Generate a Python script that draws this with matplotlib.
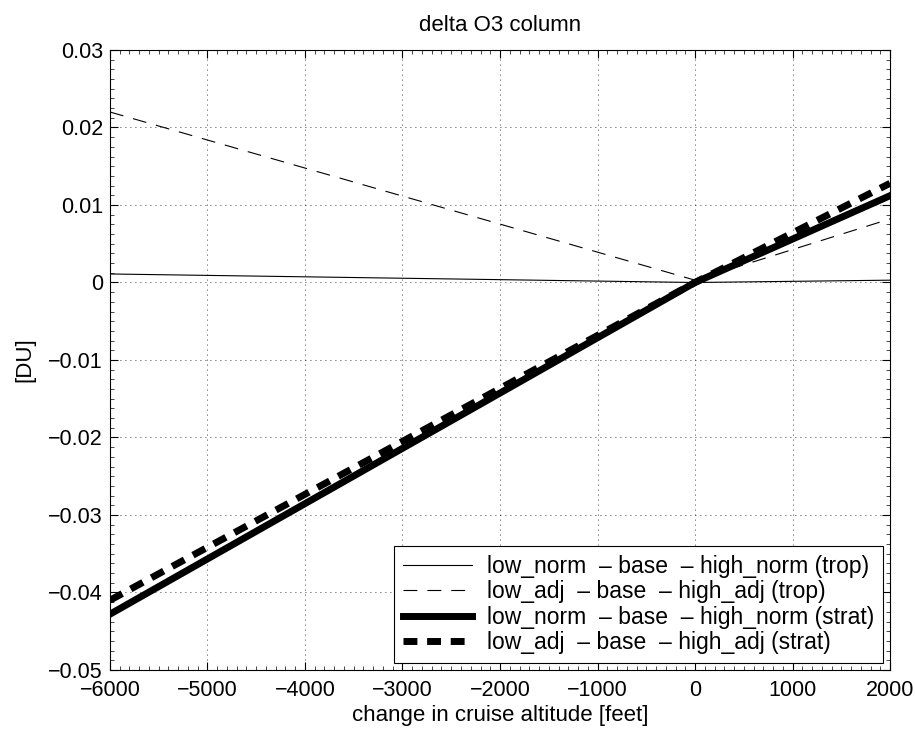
import matplotlib
matplotlib.use("Agg")
import matplotlib.pyplot as plt
from matplotlib.ticker import MultipleLocator

plt.rcParams['font.family'] = ['Liberation Sans', 'DejaVu Sans']

altitude = [-6000, 0, 2000]
trop_norm = [0.0011, 0.0, 0.0003]
trop_adj = [0.0220, 0.0003, 0.0082]
strat_norm = [-0.0428, 0.0, 0.0112]
strat_adj = [-0.0410, 0.0, 0.0128]

labels = [
    "low_norm  \u2013 base  \u2013 high_norm (trop)",
    "low_adj  \u2013 base  \u2013 high_adj (trop)",
    "low_norm  \u2013 base  \u2013 high_norm (strat)",
    "low_adj  \u2013 base  \u2013 high_adj (strat)",
]
xticks = [-6000, -5000, -4000, -3000, -2000, -1000, 0, 1000, 2000]
yticks = [-0.05, -0.04, -0.03, -0.02, -0.01, 0, 0.01, 0.02, 0.03]

fig = plt.figure(figsize=(9.15, 7.32), dpi=100)
ax = fig.add_axes([0.1202, 0.0847, 0.9727 - 0.1202, 0.9317 - 0.0847])

ax.plot(altitude, trop_norm, color='black', lw=0.8, ls='-', label=labels[0])
ax.plot(altitude, trop_adj, color='black', lw=0.8, ls=(0, (12.5, 9)), label=labels[1])
ax.plot(altitude, strat_norm, color='black', lw=5, ls='-', label=labels[2])
ax.plot(altitude, strat_adj, color='black', lw=5, ls=(0, (2.0, 1.4)), label=labels[3])

ax.set_xlim(-6000, 2000)
ax.set_ylim(-0.05, 0.03)
ax.set_xticks(xticks)
ax.set_yticks(yticks)
ax.set_xticklabels([("\u2212" + str(abs(t))) if t < 0 else str(t) for t in xticks])
ax.set_yticklabels([("\u2212" + f"{abs(t):g}") if t < 0 else f"{t:g}" for t in yticks])
ax.xaxis.set_minor_locator(MultipleLocator(100))
ax.yaxis.set_minor_locator(MultipleLocator(0.00125))
ax.tick_params(which='both', direction='in', top=True, right=True, labelsize=15.5)
ax.tick_params(axis='x', which='both', pad=7)
ax.tick_params(axis='y', which='both', pad=5)
ax.tick_params(which='major', length=6, width=0.8)
ax.tick_params(which='minor', length=3, width=0.5)
ax.grid(True, which='major', color='black', ls=(0, (1, 5)), lw=0.6)
for s in ax.spines.values():
    s.set_linewidth(0.8)

ax.set_title("delta O3 column", fontsize=16, pad=14)
ax.set_xlabel("change in cruise altitude [feet]", fontsize=16, labelpad=3)
ax.set_ylabel("[DU]", fontsize=16, labelpad=9)

leg = ax.legend(loc='lower right', prop={'size': 16.5}, fancybox=False, framealpha=1,
                edgecolor='black', handlelength=3.0, borderpad=0.4,
                labelspacing=0.1, handletextpad=0.65, borderaxespad=0.3)
leg.get_frame().set_linewidth(0.8)

fig.savefig("out.png", dpi=100)
